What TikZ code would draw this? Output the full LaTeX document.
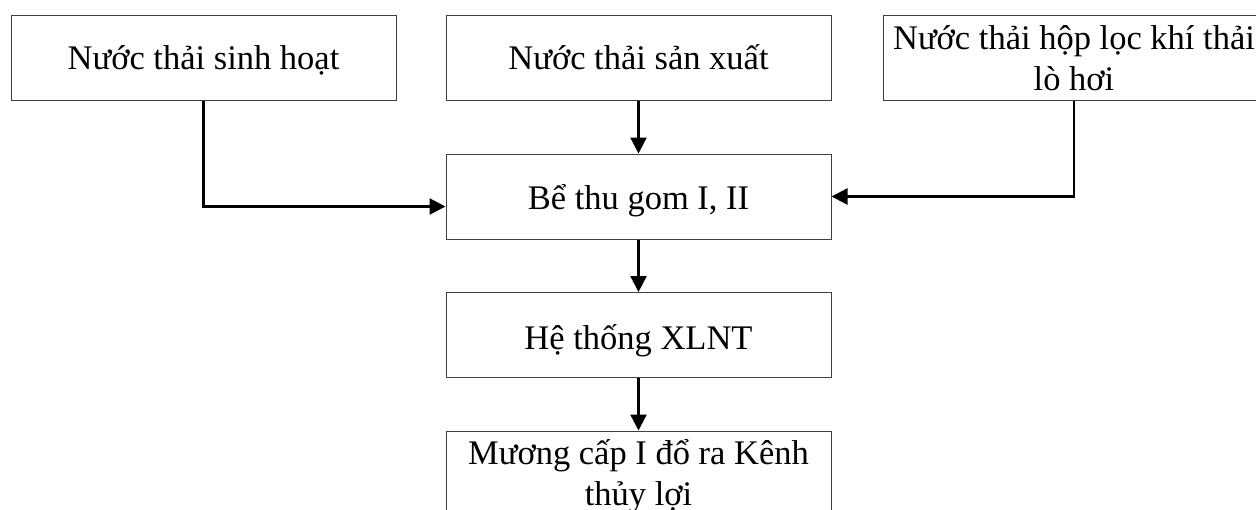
\documentclass[tikz,border=0pt]{standalone}
\usepackage{fontspec}
\setmainfont{Liberation Serif}
\usetikzlibrary{arrows.meta}
\definecolor{boxc}{HTML}{404040}
\newcommand\boxfont{\fontsize{34.5}{41.4}\selectfont}
\tikzset{
  box/.style={draw=boxc, line width=1pt, minimum width=385pt, minimum height=85pt, inner sep=0pt},
  lbl/.style={anchor=base, inner sep=0pt, font=\boxfont},
  arr/.style={line width=2.3pt, -{Triangle[length=16pt,width=16pt]}}
}
\begin{document}
\begin{tikzpicture}[x=1pt,y=-1pt]
\useasboundingbox[fill=white] (0,0) rectangle (1256,509);
\node[box] (b1) at (203.5,57.5) {};
\node[lbl] (t1) at (203.5,69) {Nước thải sinh hoạt};
\node[box] (b2) at (638.5,57.5) {};
\node[lbl] (t2) at (638.5,69) {Nước thải sản xuất};
\node[box, minimum width=382pt] (b3) at (1074,57.5) {};
\node[lbl] (t3a) at (1074,49) {Nước thải hộp lọc khí thải};
\node[lbl] (t3b) at (1074,90.5) {lò hơi};
\node[box] (b4) at (638.5,196.5) {};
\node[lbl] (t4) at (638.5,209) {Bể thu gom I, II};
\node[box] (b5) at (638.5,335) {};
\node[lbl] (t5) at (638.5,349) {Hệ thống XLNT};
\node[box] (b6) at (638.5,473.5) {};
\node[lbl] (t6a) at (638.5,464) {Mương cấp I đổ ra Kênh};
\node[lbl] (t6b) at (638.5,505) {thủy lợi};
\draw[arr] (b1.south) |- ([yshift=-10pt]b4.west);
\draw[arr] (b2.south) -- (b4.north);
\draw[arr] (b3.south) |- (b4.east);
\draw[arr] (b4.south) -- (b5.north);
\draw[arr] (b5.south) -- (b6.north);
\end{tikzpicture}
\end{document}
